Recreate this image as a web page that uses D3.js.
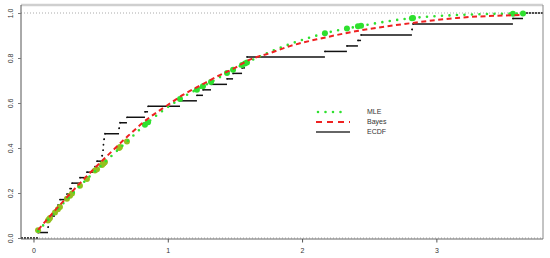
<!DOCTYPE html>
<html>
<head>
<meta charset="utf-8">
<script src="https://cdn.jsdelivr.net/npm/d3@7"></script>
<style>
  body { margin: 0; background: #fff; }
  svg { display: block; }
  text { font-family: "Liberation Sans", Arial, sans-serif; fill: #333; }
</style>
</head>
<body>
<div class="canvas"></div>
<script>
// sorted sample
const obs = [0.034, 0.108, 0.115, 0.123, 0.160, 0.182, 0.197, 0.249, 0.272, 0.287,
  0.346, 0.398, 0.458, 0.473, 0.510, 0.518, 0.521, 0.525, 0.532, 0.637,
  0.644, 0.696, 0.830, 0.853, 1.091, 1.217, 1.262, 1.322, 1.441, 1.486,
  1.553, 1.575, 1.590, 2.170, 2.334, 2.416, 2.439, 2.818, 2.826, 3.570, 3.645];

// fitted MLE cdf at each observation (green circles)
const mleAtObs = [0.035, 0.078, 0.083, 0.089, 0.113, 0.128, 0.138, 0.175, 0.188, 0.198,
  0.232, 0.262, 0.300, 0.306, 0.325, 0.330, 0.332, 0.334, 0.338, 0.400,
  0.404, 0.429, 0.503, 0.515, 0.618, 0.659, 0.674, 0.693, 0.733, 0.748,
  0.769, 0.776, 0.780, 0.910, 0.931, 0.941, 0.943, 0.977, 0.978, 0.997, 0.998];

// MLE curve (green dotted)
const mleX = [0.034, 0.197, 0.398, 0.540, 0.696, 0.838, 1.091, 1.322, 1.582, 1.910, 2.178, 2.431, 2.826, 3.153, 3.645];
const mleY = [0.031, 0.138, 0.262, 0.342, 0.429, 0.507, 0.618, 0.693, 0.778, 0.862, 0.911, 0.942, 0.978, 0.991, 0.998];

// Bayes curve (red dashed)
const bayesX = [0.034, 0.197, 0.398, 0.540, 0.703, 0.838, 0.994, 1.113, 1.255, 1.374, 1.500, 1.590, 1.761, 1.910, 2.156, 2.409, 2.826, 3.153, 3.645];
const bayesY = [0.036, 0.147, 0.276, 0.360, 0.453, 0.524, 0.589, 0.636, 0.682, 0.720, 0.756, 0.787, 0.822, 0.853, 0.889, 0.920, 0.956, 0.978, 0.991];

const xTicks = [0, 1, 2, 3];
const yTicks = [0, 0.2, 0.4, 0.6, 0.8, 1.0];
const yTickLabels = ["0.0", "0.2", "0.4", "0.6", "0.8", "1.0"];
const legendLabels = ["MLE", "Bayes", "ECDF"];

const w = 550;
const h = 258;
const frame = { left: 21, right: 543, top: 5, bottom: 239 };

const green = "#2fe02f";
const olive = "#93c01f";
const red = "#ee2222";

const svg = d3.select(".canvas").append("svg").attr("width", w).attr("height", h);

const x = d3.scaleLinear().domain([-0.093, 3.794]).range([frame.left, frame.right]);
const y = d3.scaleLinear().domain([-0.0044, 1.0356]).range([frame.bottom, frame.top]);

// gray dotted reference lines at 0 and 1
svg.selectAll(".ref")
  .data([0, 1])
  .enter()
  .append("line")
  .attr("x1", frame.left)
  .attr("x2", frame.right)
  .attr("y1", (d) => y(d))
  .attr("y2", (d) => y(d))
  .attr("stroke", "#aaa")
  .attr("stroke-width", 1)
  .attr("stroke-dasharray", "1,2");

// ECDF steps
const n = obs.length;
const steps = obs.map((v, i) => ({ x0: v, x1: i < n - 1 ? obs[i + 1] : v, level: (i + 1) / n }));

svg.append("g")
  .selectAll("line")
  .data(steps)
  .enter()
  .append("line")
  .attr("x1", (d) => x(d.x0))
  .attr("x2", (d) => x(d.x1))
  .attr("y1", (d) => y(d.level))
  .attr("y2", (d) => y(d.level))
  .attr("stroke", "#111")
  .attr("stroke-width", 1.5);

// outer pieces of the step function (left at 0, right at 1)
svg.append("line")
  .attr("x1", frame.left).attr("x2", x(obs[0]))
  .attr("y1", y(0)).attr("y2", y(0))
  .attr("stroke", "#111").attr("stroke-width", 1.5).attr("stroke-dasharray", "2,1");
svg.append("line")
  .attr("x1", x(obs[n - 1])).attr("x2", frame.right)
  .attr("y1", y(1)).attr("y2", y(1))
  .attr("stroke", "#111").attr("stroke-width", 1.5).attr("stroke-dasharray", "2,1");

// ECDF jump points
svg.append("g")
  .selectAll("circle")
  .data(steps)
  .enter()
  .append("circle")
  .attr("cx", (d) => x(d.x0))
  .attr("cy", (d) => y(d.level))
  .attr("r", 0.9)
  .attr("fill", "#111");

// fitted values at observations
svg.append("g")
  .selectAll("circle")
  .data(obs.map((v, i) => [v, mleAtObs[i]]))
  .enter()
  .append("circle")
  .attr("cx", (d) => x(d[0]))
  .attr("cy", (d) => y(d[1]))
  .attr("r", 3)
  .attr("fill", (d) => (d[0] < 0.75 ? olive : green));

const line = d3.line().x((d) => x(d[0])).y((d) => y(d[1])).curve(d3.curveMonotoneX);

svg.append("path")
  .attr("d", line(mleX.map((v, i) => [v, mleY[i]])))
  .attr("fill", "none")
  .attr("stroke", green)
  .attr("stroke-width", 2.6)
  .attr("stroke-linecap", "round")
  .attr("stroke-dasharray", "0,7.5");

svg.append("path")
  .attr("d", line(bayesX.map((v, i) => [v, bayesY[i]])))
  .attr("fill", "none")
  .attr("stroke", red)
  .attr("stroke-width", 2)
  .attr("stroke-dasharray", "5,3.5");

// frame
svg.append("line").attr("x1", frame.left).attr("x2", frame.right).attr("y1", frame.top).attr("y2", frame.top)
  .attr("stroke", "#cfcfcf").attr("stroke-width", 2.5);
svg.append("line").attr("x1", frame.right).attr("x2", frame.right).attr("y1", frame.top).attr("y2", frame.bottom)
  .attr("stroke", "#888").attr("stroke-width", 1);
svg.append("line").attr("x1", frame.left).attr("x2", frame.left).attr("y1", frame.top).attr("y2", frame.bottom)
  .attr("stroke", "#555").attr("stroke-width", 1);
svg.append("line").attr("x1", frame.left).attr("x2", frame.right).attr("y1", frame.bottom).attr("y2", frame.bottom)
  .attr("stroke", "#666").attr("stroke-width", 1);

// axes
const xAxis = svg.append("g")
  .attr("transform", `translate(0, ${frame.bottom})`)
  .call(d3.axisBottom(x).tickValues(xTicks).tickSize(3.5).tickSizeOuter(0).tickPadding(6).tickFormat(d3.format("d")));
xAxis.select(".domain").remove();
xAxis.selectAll("line").attr("stroke", "#555");
xAxis.selectAll("text").style("font-size", "7px");

const yAxis = svg.append("g")
  .attr("transform", `translate(${frame.left}, 0)`)
  .call(d3.axisLeft(y).tickValues(yTicks).tickSize(3).tickSizeOuter(0).tickFormat((d, i) => yTickLabels[i]));
yAxis.select(".domain").remove();
yAxis.selectAll("line").attr("stroke", "#777");
yAxis.selectAll("text")
  .attr("x", 0)
  .attr("dy", 0)
  .attr("text-anchor", "middle")
  .attr("transform", "translate(-8.5, 0) rotate(-90)")
  .style("font-size", "7px");

// legend
const legend = svg.append("g");
const legY = [112, 122, 132];
legend.selectAll("text")
  .data(legendLabels)
  .enter()
  .append("text")
  .attr("x", 367)
  .attr("y", (d, i) => legY[i])
  .attr("dy", "0.35em")
  .style("font-size", "7px")
  .text((d) => d);

legend.append("line").attr("x1", 318).attr("x2", 348).attr("y1", legY[0]).attr("y2", legY[0])
  .attr("stroke", green).attr("stroke-width", 2.6).attr("stroke-linecap", "round").attr("stroke-dasharray", "0,7.5");
legend.append("line").attr("x1", 316).attr("x2", 350).attr("y1", legY[1]).attr("y2", legY[1])
  .attr("stroke", red).attr("stroke-width", 2).attr("stroke-dasharray", "6,5");
legend.append("line").attr("x1", 316).attr("x2", 350).attr("y1", legY[2]).attr("y2", legY[2])
  .attr("stroke", "#333").attr("stroke-width", 1.5);
</script>
</body>
</html>
